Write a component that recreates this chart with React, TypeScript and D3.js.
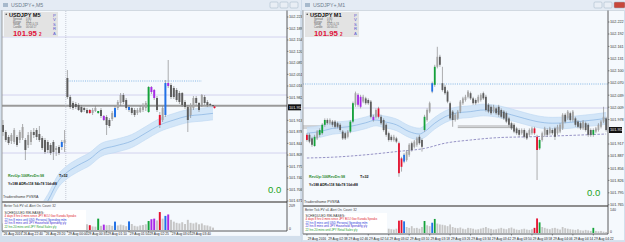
import * as d3 from 'd3';

type Candle = [number, number, number, number]; // open, high, low, close
type Key = [number, number]; // bar index, price

// ---------- USDJPY M5 (left window) ----------
const m5Candles: Candle[] = [
  [101.899, 101.914, 101.866, 101.878], [101.878, 101.884, 101.848, 101.854], [101.863, 101.869, 101.839, 101.845],
  [101.851, 101.875, 101.842, 101.869], [101.848, 101.890, 101.842, 101.884], [101.863, 101.869, 101.833, 101.839],
  [101.854, 101.884, 101.845, 101.878], [101.860, 101.902, 101.854, 101.893], [101.854, 101.860, 101.794, 101.824],
  [101.839, 101.878, 101.830, 101.869], [101.848, 101.884, 101.839, 101.878], [101.878, 101.890, 101.860, 101.869],
  [101.884, 101.890, 101.854, 101.863], [101.872, 101.896, 101.848, 101.854], [101.860, 101.866, 101.824, 101.830],
  [101.854, 101.860, 101.812, 101.818], [101.848, 101.854, 101.815, 101.824], [101.839, 101.845, 101.809, 101.815],
  [101.848, 101.854, 101.794, 101.818], [101.824, 101.836, 101.806, 101.830], [101.833, 101.839, 101.809, 101.815],
  [101.833, 101.854, 101.824, 101.848], [101.845, 101.884, 101.818, 101.854], [102.040, 102.064, 101.977, 101.983],
  [101.983, 101.989, 101.947, 101.953], [101.965, 101.971, 101.944, 101.950], [101.962, 101.968, 101.947, 101.953],
  [101.959, 101.965, 101.941, 101.944], [101.953, 101.959, 101.935, 101.938], [101.950, 101.953, 101.938, 101.944],
  [101.944, 101.950, 101.932, 101.935], [101.944, 101.947, 101.932, 101.935], [101.935, 101.950, 101.929, 101.944],
  [101.941, 101.956, 101.938, 101.950], [101.935, 101.941, 101.932, 101.941], [101.944, 101.950, 101.920, 101.926],
  [101.926, 101.929, 101.911, 101.914], [101.923, 101.929, 101.869, 101.899], [101.914, 101.920, 101.890, 101.896],
  [101.917, 101.941, 101.911, 101.935], [101.923, 101.956, 101.920, 101.950], [101.950, 101.974, 101.944, 101.968],
  [101.965, 101.995, 101.956, 101.989], [101.989, 101.995, 101.962, 101.968], [101.974, 101.980, 101.944, 101.950],
  [101.953, 101.959, 101.938, 101.944], [101.950, 101.953, 101.929, 101.935], [101.944, 101.950, 101.923, 101.929],
  [101.935, 101.950, 101.929, 101.944], [101.938, 101.956, 101.935, 101.950], [101.944, 101.965, 101.938, 101.959],
  [101.950, 101.971, 101.941, 101.965], [101.938, 102.016, 101.935, 102.013], [102.013, 102.016, 101.992, 101.998],
  [102.004, 102.007, 101.974, 101.980], [101.980, 101.986, 101.938, 101.944], [101.929, 101.938, 101.890, 101.899],
  [101.914, 101.956, 101.908, 101.950], [101.929, 102.034, 101.923, 102.025], [102.025, 102.094, 102.010, 102.016],
  [102.019, 102.025, 101.977, 101.983], [102.010, 102.016, 101.977, 101.983], [102.004, 102.010, 101.968, 101.974],
  [101.995, 102.001, 101.962, 101.968], [101.995, 101.998, 101.953, 101.959], [101.968, 101.974, 101.947, 101.953],
  [101.953, 101.959, 101.878, 101.914], [101.929, 101.965, 101.920, 101.959], [101.950, 101.986, 101.944, 101.980],
  [101.980, 101.986, 101.959, 101.965], [101.965, 101.968, 101.938, 101.944], [101.959, 101.992, 101.953, 101.989],
  [101.983, 101.989, 101.959, 101.965], [101.968, 101.974, 101.953, 101.959], [101.962, 101.965, 101.956, 101.959],
  [101.959, 101.959, 101.953, 101.956],
];
const m5Colored: [number, string][] = [
  [21, 'b'], [31, 'r'], [34, 'g'], [36, 'p'], [40, 'b'], [45, 'b'],
  [52, 'g'], [53, 'p'], [54, 'p'], [56, 'r'], [58, 'b'], [59, 'p'],
];
const m5Volume = [
  55, 60, 48, 52, 70, 45, 58, 62, 80, 50, 47, 44, 55, 66, 60, 72, 58, 64, 75, 50, 52, 68, 88,
  150, 90, 70, 60, 55, 50, 45, 48, 40, 30, 28, 95, 35, 45, 40, 42, 35, 70, 38, 45, 40, 32, 72,
  50, 35, 30, 38, 42, 48, 75, 90, 95, 80, 150, 95, 118, 130, 85, 70, 60, 55, 65, 50, 85, 60,
  55, 62, 48, 55, 40, 38, 30, 20,
];
const m5Ma: Key[] = [
  [14, 101.644], [16, 101.671], [20, 101.734], [23, 101.758], [27, 101.779], [31, 101.797], [35, 101.824],
  [40, 101.836], [46, 101.851], [51, 101.875], [56, 101.899], [61, 101.914], [66, 101.926], [71, 101.93], [75, 101.934],
];
const m5PriceTicks = [
  102.223, 102.189, 102.154, 102.12, 102.085, 102.051, 102.016, 101.982, 101.947,
  101.913, 101.878, 101.844, 101.809, 101.775, 101.74, 101.706, 101.671,
];
const m5DateIdx = [0, 7, 15, 23, 30, 37, 45, 52, 60, 67];
const m5DateLabels = [
  '26 Aug 2016', '26 Aug 22:40', '26 Aug 23:20', '29 Aug 00:00', '29 Aug 00:35',
  '29 Aug 01:10', '29 Aug 01:50', '29 Aug 02:25', '29 Aug 03:05', '29 Aug 03:40',
];
const m5Pivots = [102.163, 101.989, 101.815];
const m5Gray: [number, number, number][] = [[0, 75, 101.957]];
const m5Dotted: [number, number, number] = [23, 71, 102.031];

// ---------- USDJPY M1 (right window) ----------
const m1Candles: Candle[] = [
  [101.940, 101.944, 101.923, 101.927], [101.940, 101.944, 101.919, 101.923], [101.931, 101.935, 101.910, 101.915],
  [101.912, 101.940, 101.910, 101.935], [101.931, 101.952, 101.927, 101.948], [101.940, 101.956, 101.935, 101.952],
  [101.944, 101.969, 101.940, 101.965], [101.965, 101.981, 101.960, 101.977], [101.977, 101.981, 101.965, 101.969],
  [101.969, 101.981, 101.965, 101.977], [101.973, 101.977, 101.960, 101.965], [101.973, 101.977, 101.956, 101.960],
  [101.969, 101.973, 101.956, 101.960], [101.965, 101.969, 101.948, 101.952], [101.948, 101.952, 101.927, 101.931],
  [101.944, 101.948, 101.927, 101.931], [101.935, 101.952, 101.931, 101.948], [101.948, 101.977, 101.944, 101.973],
  [101.973, 102.023, 101.969, 102.019], [102.015, 102.048, 102.010, 102.044], [102.040, 102.044, 102.010, 102.015],
  [102.035, 102.040, 102.006, 102.010], [102.023, 102.040, 102.019, 102.035], [102.031, 102.035, 102.015, 102.019],
  [102.027, 102.031, 102.015, 102.019], [102.023, 102.027, 101.981, 101.985], [101.985, 101.990, 101.973, 101.977],
  [101.985, 102.006, 101.981, 102.002], [102.006, 102.010, 101.981, 101.985], [101.985, 101.990, 101.965, 101.969],
  [101.977, 101.981, 101.948, 101.952], [101.965, 101.969, 101.935, 101.940], [101.944, 101.948, 101.923, 101.927],
  [101.935, 101.940, 101.923, 101.927], [101.927, 101.940, 101.923, 101.935], [101.931, 101.935, 101.919, 101.923],
  [101.919, 101.923, 101.835, 101.844], [101.860, 101.885, 101.848, 101.881], [101.873, 101.894, 101.869, 101.890],
  [101.877, 101.902, 101.873, 101.898], [101.890, 101.919, 101.885, 101.915], [101.919, 101.923, 101.898, 101.902],
  [101.910, 101.927, 101.906, 101.923], [101.915, 101.935, 101.910, 101.931], [101.935, 101.940, 101.915, 101.919],
  [101.927, 101.931, 101.898, 101.910], [101.952, 101.990, 101.948, 101.985], [101.977, 102.006, 101.973, 102.002],
  [101.998, 102.023, 101.994, 102.019], [102.048, 102.073, 102.044, 102.069], [102.065, 102.115, 102.060, 102.110],
  [102.110, 102.160, 102.106, 102.135], [102.135, 102.140, 102.110, 102.115], [102.069, 102.110, 102.048, 102.052],
  [102.060, 102.065, 102.040, 102.044], [102.048, 102.052, 102.019, 102.023], [102.019, 102.023, 101.977, 101.981],
  [101.998, 102.002, 101.960, 101.977], [101.977, 101.994, 101.973, 101.990], [101.981, 102.002, 101.977, 101.998],
  [101.998, 102.027, 101.994, 102.023], [102.019, 102.035, 102.015, 102.031], [102.027, 102.040, 102.023, 102.035],
  [102.035, 102.052, 102.031, 102.048], [102.044, 102.048, 102.027, 102.031], [102.031, 102.035, 102.015, 102.019],
  [102.027, 102.031, 102.015, 102.019], [102.023, 102.040, 102.019, 102.035], [102.027, 102.044, 102.023, 102.040],
  [102.044, 102.048, 102.027, 102.031], [102.035, 102.040, 101.998, 102.002], [102.015, 102.019, 101.994, 101.998],
  [102.010, 102.015, 101.990, 101.994], [101.998, 102.015, 101.994, 102.010], [102.006, 102.010, 101.990, 101.994],
  [102.010, 102.015, 101.985, 101.990], [102.002, 102.006, 101.981, 101.985], [101.998, 102.002, 101.977, 101.981],
  [101.994, 101.998, 101.969, 101.973], [101.981, 101.985, 101.960, 101.965], [101.969, 101.973, 101.952, 101.956],
  [101.965, 101.969, 101.944, 101.948], [101.956, 101.960, 101.940, 101.944], [101.952, 101.956, 101.935, 101.940],
  [101.944, 101.956, 101.940, 101.952], [101.952, 101.956, 101.931, 101.935], [101.944, 101.948, 101.927, 101.931],
  [101.940, 101.956, 101.935, 101.952], [101.944, 101.960, 101.940, 101.956], [101.956, 101.960, 101.940, 101.944],
  [101.935, 101.940, 101.827, 101.902], [101.906, 101.931, 101.902, 101.927], [101.927, 101.948, 101.923, 101.944],
  [101.940, 101.960, 101.935, 101.956], [101.952, 101.956, 101.935, 101.940], [101.944, 101.960, 101.940, 101.956],
  [101.952, 101.956, 101.940, 101.944], [101.956, 101.960, 101.927, 101.935], [101.944, 101.965, 101.940, 101.960],
  [101.948, 101.969, 101.944, 101.965], [101.956, 101.994, 101.952, 101.990], [101.990, 101.994, 101.969, 101.973],
  [101.981, 102.002, 101.977, 101.998], [101.994, 101.998, 101.973, 101.977], [101.977, 102.002, 101.973, 101.998],
  [101.981, 101.985, 101.960, 101.965], [101.973, 101.977, 101.956, 101.960], [101.969, 101.973, 101.952, 101.956],
  [101.956, 101.977, 101.952, 101.973], [101.969, 101.973, 101.948, 101.952], [101.965, 101.969, 101.935, 101.940],
  [101.952, 101.956, 101.935, 101.940], [101.940, 101.956, 101.935, 101.952], [101.948, 101.960, 101.944, 101.956],
  [101.952, 101.969, 101.948, 101.965], [101.960, 101.977, 101.956, 101.973], [101.973, 102.010, 101.969, 101.985],
  [101.981, 101.985, 101.948, 101.952],
];
const m1Colored: [number, string][] = [
  [0, 'r'], [3, 'g'], [5, 'g'], [6, 'g'], [7, 'g'], [17, 'g'], [18, 'g'], [20, 'p'], [21, 'p'], [26, 'p'],
  [28, 'r'], [36, 'r'], [37, 'r'], [38, 'b'], [46, 'g'], [49, 'b'], [50, 'g'], [89, 'r'], [90, 'r'], [91, 'g'], [112, 'g'],
];
const m1Volume = [
  30, 25, 28, 35, 22, 40, 38, 42, 30, 25, 20, 22, 18, 24, 30, 28, 26, 45, 60, 55, 50, 40, 35, 30, 28, 45, 40, 32, 50, 35,
  30, 28, 25, 22, 20, 25, 72, 75, 68, 35, 30, 40, 28, 30, 25, 35, 70, 45, 40, 60, 82, 55, 50, 48, 45, 40, 50, 35, 30, 28,
  32, 25, 22, 30, 28, 25, 20, 22, 26, 30, 35, 28, 24, 20, 22, 26, 30, 25, 22, 28, 32, 25, 20, 18, 22, 25, 20, 18, 22, 30,
  85, 62, 35, 30, 25, 22, 28, 30, 25, 20, 35, 28, 25, 22, 20, 18, 22, 16, 14, 18, 15, 12, 30, 12, 10, 12, 8, 6,
];
const m1Ma: Key[] = [
  [0, 101.944], [5, 101.948], [10, 101.956], [16, 101.96], [23, 101.97], [27, 101.977], [30, 101.973], [35, 101.965],
  [40, 101.948], [44, 101.942], [46, 101.948], [50, 101.969], [54, 101.985], [58, 101.994], [64, 101.998], [69, 102.002],
  [75, 101.998], [80, 101.99], [85, 101.981], [90, 101.973], [96, 101.969], [101, 101.97], [106, 101.973], [112, 101.977],
  [117, 101.981],
];
const m1Slow: Key[] = [
  [0, 101.882], [10, 101.884], [23, 101.89], [35, 101.898], [46, 101.906], [54, 101.919], [64, 101.927],
  [75, 101.933], [87, 101.935], [101, 101.938], [117, 101.942],
];
const m1PriceTicks = [
  102.222, 102.192, 102.161, 102.131, 102.1, 102.07, 102.039, 102.009, 101.978, 101.948,
  101.917, 101.887, 101.856, 101.826, 101.795, 101.765,
];
const m1DateIdx = [0, 8, 16, 24, 32, 40, 48, 56, 64, 72, 80, 88, 96, 104, 112];
const m1DateLabels = [
  '29 Aug 2016', '29 Aug 02:38', '29 Aug 02:46', '29 Aug 02:54', '29 Aug 03:02', '29 Aug 03:10', '29 Aug 03:18',
  '29 Aug 03:26', '29 Aug 03:34', '29 Aug 03:42', '29 Aug 03:50', '29 Aug 03:58', '29 Aug 04:06', '29 Aug 04:14', '29 Aug 04:22',
];
const m1Pivots = [102.007];
const m1Gray: [number, number, number][] = [[0, 19, 101.962], [0, 19, 101.957], [59, 81, 101.962], [59, 81, 101.958]];
const m1Dotted: [number, number, number] = [0, 117, 102.067];

const lastPrice = 101.952;
const releaseLines = [
  '4 days 8 hrs 0 mins since JPY BOJ Gov Kuroda Speaks',
  '22 hrs 8 mins until USD Personal Spending m/m',
  '22 hrs 8 mins until JPY Household Spending y/y',
  '22 hrs 20 mins until JPY Retail Sales y/y',
];
const infoLabels = ['Spread', 'Range', 'Swap', 'Candle'];

const KIND: Record<string, string> = { r: '#e5102e', g: '#14a23a', b: '#2070e6', p: '#a828e6' };
const RELEASE_COLORS = ['#e0202a', '#2a3ad8', '#3a2ad0', '#1a9a2a'];

interface Cfg {
  x0: number; x1: number; plotX0: number; axisX: number;
  mainTop: number; mainBottom: number; subTop: number; subBottom: number; volBase: number; dateY: number;
  barRange: [number, number]; priceDomain: [number, number]; maHalf: number;
  textY: number; brandY: number; zeroX: number; zeroY: number; boxTop: number;
}

const LEFT: Cfg = {
  x0: 0, x1: 301, plotX0: 2, axisX: 287, mainTop: 11, mainBottom: 201, subTop: 203, subBottom: 231,
  volBase: 230, dateY: 235.4, barRange: [2, 214], priceDomain: [102.241, 101.671], maHalf: 0.0195,
  textY: 177, brandY: 197.5, zeroX: 268, zeroY: 193, boxTop: 210,
};
const RIGHT: Cfg = {
  x0: 302, x1: 625, plotX0: 303, axisX: 608, mainTop: 11, mainBottom: 206, subTop: 207, subBottom: 234,
  volBase: 233, dateY: 239.6, barRange: [306, 607], priceDomain: [102.2495, 101.762], maHalf: 0.0146,
  textY: 177.5, brandY: 202.5, zeroX: 587, zeroY: 195.5, boxTop: 213,
};

interface WinProps {
  cfg: Cfg; id: string; title: string; period: string; candles: Candle[]; colored: [number, string][];
  volume: number[]; volMax: number; ma: Key[]; slow?: Key[]; priceTicks: number[];
  dateIdx: number[]; dateLabels: string[]; pivots: number[]; grays: [number, number, number][];
  dotted: [number, number, number]; infoValues: string[]; separatorIdx?: number; closeRed?: boolean;
}

function ChartWindow(p: WinProps) {
  const c = p.cfg;
  const n = p.candles.length;
  const x = d3.scaleBand<number>().domain(d3.range(n)).range(c.barRange).paddingInner(0.3);
  const cx = (i: number) => (x(i) ?? 0) + x.bandwidth() / 2;
  const y = d3.scaleLinear().domain(c.priceDomain).range([c.mainTop, c.mainBottom]);
  const vy = d3.scaleLinear().domain([0, p.volMax]).range([c.volBase, c.subTop + 2]);
  const kind = new Map(p.colored);
  const band = d3.area<Key>().x((d) => cx(d[0])).y0((d) => y(d[1] - c.maHalf)).y1((d) => y(d[1] + c.maHalf)).curve(d3.curveMonotoneX);
  const line = d3.line<Key>().x((d) => cx(d[0])).y((d) => y(d[1])).curve(d3.curveMonotoneX);
  const upper = d3.line<Key>().x((d) => cx(d[0])).y((d) => y(d[1] + c.maHalf)).curve(d3.curveMonotoneX);
  const lower = d3.line<Key>().x((d) => cx(d[0])).y((d) => y(d[1] - c.maHalf)).curve(d3.curveMonotoneX);
  const w = c.x1 - c.x0;
  const bx = c.plotX0 + 2;
  const py = y(lastPrice);
  const btnX = c.x1 - 31;
  // ticks hidden behind the current-price tag
  const ticks = p.priceTicks.filter((v) => Math.abs(y(v) - py) > 5);

  return (
    <g>
      <defs>
        <clipPath id={`main-${p.id}`}>
          <rect x={c.plotX0} y={c.mainTop} width={c.axisX - c.plotX0} height={c.mainBottom - c.mainTop} />
        </clipPath>
        <clipPath id={`sub-${p.id}`}>
          <rect x={c.plotX0} y={c.subTop} width={c.axisX - c.plotX0} height={c.subBottom - c.subTop} />
        </clipPath>
      </defs>
      {/* window chrome */}
      <rect x={c.x0} y={0} width={w} height={242} fill="#d3dfec" />
      <rect x={c.x0} y={0} width={w} height={10} fill="#e4ebf4" />
      <rect x={c.x0 + 3} y={3} width={5} height={4} fill="#a7b9cc" />
      <text x={c.x0 + 11} y={7} fontSize={5.2} fill="#6f7d8e">{p.title}</text>
      {[0, 1, 2].map((k) => (
        <rect key={k} x={btnX + k * 10} y={2} width={k === 2 && p.closeRed ? 11 : 8} height={6} rx={1}
          fill={k === 2 && p.closeRed ? '#c8473a' : '#e9eef5'} stroke="#9fb0c4" strokeWidth={0.5} />
      ))}
      <rect x={c.plotX0} y={c.mainTop - 1} width={c.x1 - c.plotX0 - 1} height={c.dateY + 1.5 - c.mainTop} fill="#f5f9fd" />

      {/* main chart */}
      <g clipPath={`url(#main-${p.id})`}>
        {p.pivots.map((v) => (
          <line key={v} x1={c.plotX0} x2={c.axisX} y1={y(v)} y2={y(v)} stroke="#c9c9ea" strokeWidth={0.8} />
        ))}
        {p.grays.map(([a, b, v], k) => (
          <line key={k} x1={a === 0 ? c.plotX0 : cx(a)} x2={b === n - 1 ? c.axisX : cx(b)} y1={y(v)} y2={y(v)}
            stroke="#9a9a9a" strokeWidth={p.grays.length === 1 ? 2 : 0.8} />
        ))}
        <line x1={p.dotted[0] === 0 ? c.plotX0 : cx(p.dotted[0])} x2={p.dotted[1] === n - 1 ? c.axisX : cx(p.dotted[1])}
          y1={y(p.dotted[2])} y2={y(p.dotted[2])} stroke="#6aa6e0" strokeWidth={0.8} strokeDasharray="1 1.2" />
        {p.separatorIdx !== undefined && (
          <line x1={(x(p.separatorIdx) ?? 0) - 0.6} x2={(x(p.separatorIdx) ?? 0) - 0.6} y1={c.mainTop} y2={c.mainBottom}
            stroke="#a3a8b8" strokeWidth={0.6} strokeDasharray="1 1" />
        )}
        <path d={band(p.ma) ?? ''} fill="#cfe3f7" opacity={0.9} />
        <path d={upper(p.ma) ?? ''} fill="none" stroke="#bcd6f1" strokeWidth={0.6} />
        <path d={lower(p.ma) ?? ''} fill="none" stroke="#bcd6f1" strokeWidth={0.6} />
        <path d={line(p.ma) ?? ''} fill="none" stroke="#78a9de" strokeWidth={0.6} />
        {p.slow && <path d={line(p.slow) ?? ''} fill="none" stroke="#7d78b8" strokeWidth={0.8} strokeDasharray="2.5 1.5" />}
        {p.candles.map(([o, h, l, cl], i) => {
          const k = kind.get(i);
          const fill = k ? KIND[k] : cl >= o ? '#a4a4a4' : '#5d5d5d';
          const top = y(Math.max(o, cl));
          const bh = Math.max(0.8, Math.abs(y(o) - y(cl)));
          return (
            <g key={i}>
              <line x1={cx(i)} x2={cx(i)} y1={y(h)} y2={y(l)} stroke="#7b7b7b" strokeWidth={0.6} />
              <rect x={x(i)} y={top} width={x.bandwidth()} height={bh} fill={fill} />
            </g>
          );
        })}
        {p.separatorIdx !== undefined && <circle cx={cx(n - 1) + 1.5} cy={py} r={1.1} fill="#e5102e" />}
      </g>

      {/* info box */}
      <rect x={bx} y={12} width={54} height={25} fill="#e3e3e3" />
      <circle cx={bx + 2.2} cy={14.2} r={0.7} fill="#222" />
      <text x={bx + 5} y={16.5} fontSize={5.6} fontWeight="bold" fill="#111">{`USDJPY   ${p.period}`}</text>
      {infoLabels.map((t, k) => (
        <g key={t} fontSize={2.7} fill="#666">
          <text x={bx + 9} y={19.8 + k * 2.8}>{t}</text>
          <text x={bx + 22} y={19.8 + k * 2.8}>{p.infoValues[k]}</text>
        </g>
      ))}
      <text x={bx + 9} y={36.2} fontSize={7.8} fontWeight="bold" fill="#e0123c">101.95</text>
      <text x={bx + 35} y={36.2} fontSize={4.5} fontWeight="bold" fill="#e0123c">2</text>
      {['P', 'V', 'S', 'R', 'A'].map((ch, k) => (
        <text key={ch} x={bx + 49} y={17 + k * 4.4} fontSize={4.2} fill="#5a5ad0">{ch}</text>
      ))}

      {/* overlay texts */}
      <g fontSize={3.7} fontWeight="bold">
        <text x={c.plotX0 + 6} y={c.textY} fill="#2e8b2e">RevUp:106</text>
        <text x={c.plotX0 + 25} y={c.textY} fill="#2e8b2e">RevDn:98</text>
        <text x={c.plotX0 + 57} y={c.textY} fill="#111">T=32</text>
        <text x={c.plotX0 + 6} y={c.textY + 8} fontSize={3.4} fill="#111">Y=188  ADR=118  S4=78  10d=88</text>
      </g>
      <text x={c.zeroX} y={c.zeroY} fontSize={9.5} fill="#22a322">0.0</text>
      <text x={c.plotX0 + 1} y={c.brandY} fontSize={3.6} fill="#333">Tradersthome PVSRA</text>

      {/* volume sub-window */}
      <line x1={c.plotX0} x2={c.axisX} y1={c.subTop - 1} y2={c.subTop - 1} stroke="#8e8e8e" strokeWidth={2} />
      <g clipPath={`url(#sub-${p.id})`}>
        {p.volume.map((v, i) => {
          const k = kind.get(i);
          return <rect key={i} x={x(i)} y={vy(v)} width={x.bandwidth()} height={c.volBase - vy(v)} fill={k ? KIND[k] : '#c6c6c6'} />;
        })}
      </g>
      <text x={c.plotX0 + 2} y={c.subTop + 3.8} fontSize={3.1} fill="#444">Better Tick PV v4.    Alert On.   Count: 32</text>
      <rect x={c.plotX0 + 1} y={c.boxTop} width={83} height={c.subBottom - c.boxTop - 1} fill="#ffffff" />
      <text x={c.plotX0 + 2.5} y={c.boxTop + 3.6} fontSize={3.3} fill="#333">SCHEDULED RELEASES:</text>
      {releaseLines.map((t, k) => (
        <text key={t} x={c.plotX0 + 2.5} y={c.boxTop + 7.4 + k * 3.5} fontSize={2.9} fill={RELEASE_COLORS[k]}>{t}</text>
      ))}

      {/* frames */}
      <line x1={c.axisX} x2={c.axisX} y1={c.mainTop - 1} y2={c.subBottom} stroke="#333" strokeWidth={0.8} />
      <line x1={c.plotX0} x2={c.axisX} y1={c.subBottom} y2={c.subBottom} stroke="#333" strokeWidth={0.8} />
      <line x1={c.plotX0} x2={c.plotX0} y1={c.mainTop - 1} y2={c.subBottom} stroke="#8a8a8a" strokeWidth={0.8} />
      <line x1={c.plotX0} x2={c.x1 - 1} y1={c.mainTop - 0.5} y2={c.mainTop - 0.5} stroke="#b8c2ce" strokeWidth={0.6} />

      {/* price axis */}
      {ticks.map((v) => (
        <g key={v}>
          <line x1={c.axisX} x2={c.axisX + 1.5} y1={y(v)} y2={y(v)} stroke="#333" strokeWidth={0.5} />
          <text x={c.axisX + 2} y={y(v) + 1.4} fontSize={3.8} fill="#333">{v.toFixed(3)}</text>
        </g>
      ))}
      <rect x={c.axisX + 1} y={py - 3} width={13} height={6} fill="#111" />
      <text x={c.axisX + 2} y={py + 1.4} fontSize={3.8} fill="#fff">{lastPrice.toFixed(3)}</text>
      <text x={c.axisX + 2} y={c.subTop + 3.5} fontSize={3.5} fill="#333">{p.volMax}</text>
      <text x={c.axisX + 2} y={c.subBottom - 1} fontSize={3.5} fill="#333">0</text>

      {/* date axis */}
      {p.dateIdx.map((idx, k) => (
        <g key={idx}>
          <line x1={cx(idx)} x2={cx(idx)} y1={c.subBottom} y2={c.subBottom + 1.5} stroke="#333" strokeWidth={0.5} />
          <text x={cx(idx) + 0.8} y={c.dateY} fontSize={3.3} fill="#222">{p.dateLabels[k]}</text>
        </g>
      ))}
    </g>
  );
}

export default function App() {
  return (
    <svg width={625} height={242} viewBox="0 0 625 242" style={{ position: 'absolute', left: 0, top: 0, display: 'block' }}
      fontFamily="'Liberation Sans', Arial, sans-serif">
      <rect width={625} height={242} fill="#cfdbe9" />
      <ChartWindow cfg={LEFT} id="m5" title="USDJPY+,M5" period="M5" candles={m5Candles} colored={m5Colored}
        volume={m5Volume} volMax={209} ma={m5Ma} priceTicks={m5PriceTicks} dateIdx={m5DateIdx} dateLabels={m5DateLabels}
        pivots={m5Pivots} grays={m5Gray} dotted={m5Dotted} infoValues={['0.80', '56.1', '0.31/-0.74', '00:04:17']}
        separatorIdx={23} />
      <ChartWindow cfg={RIGHT} id="m1" title="USDJPY+,M1" period="M1" candles={m1Candles} colored={m1Colored}
        volume={m1Volume} volMax={140} ma={m1Ma} slow={m1Slow} priceTicks={m1PriceTicks} dateIdx={m1DateIdx}
        dateLabels={m1DateLabels} pivots={m1Pivots} grays={m1Gray} dotted={m1Dotted}
        infoValues={['0.80', '56.1', '0.31/-0.74', '00:00:21']} closeRed />
    </svg>
  );
}
